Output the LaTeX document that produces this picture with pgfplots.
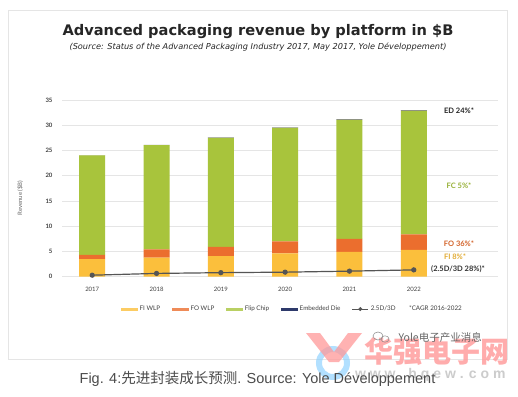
\documentclass[border=0pt]{standalone}
\usepackage{fontspec}
\setmainfont{Lato}
\newfontfamily\titlefont{DejaVu Sans}
\newfontfamily\capfont{Liberation Sans}
\newfontfamily\cjk{Noto Sans CJK SC}
\usepackage{pgfplots}
\pgfplotsset{compat=1.18}
\definecolor{fiw}{HTML}{FBBF3C}
\definecolor{fow}{HTML}{EB6E2E}
\definecolor{fcc}{HTML}{A8C43C}
\definecolor{edc}{HTML}{2E3A6B}
\definecolor{linec}{HTML}{555555}
\begin{document}
\begin{tikzpicture}[x=1pt,y=1pt]
\useasboundingbox (0,0) rectangle (518,396);
\fill[white] (0,0) rectangle (518,396);
\draw[black!10, line width=0.6pt] (8,37) rectangle (507,386);
\node[font=\titlefont\bfseries\fontsize{14.6}{16}\selectfont, text=black!85] at (258,364) {Advanced packaging revenue by platform in \$B};
\node[font=\titlefont\itshape\fontsize{8.2}{9}\selectfont, text=black!85] at (258,349) {(Source: Status of the Advanced Packaging Industry 2017, May 2017, Yole Développement)};
\begin{axis}[
  at={(62pt,119.3pt)}, anchor=south west,
  scale only axis, width=436pt, height=176.7pt,
  xmin=-0.47, xmax=6.31, ymin=0, ymax=35,
  ytick={0,5,...,35}, xtick={0,...,5},
  xticklabels={2017,2018,2019,2020,2021,2022},
  ybar stacked, bar width=26pt,
  ymajorgrids, grid style={black!10, line width=0.8pt},
  axis line style={draw=none}, major tick length=0pt,
  tick label style={font=\fontsize{6}{7}\selectfont\bfseries, text=black!75},
  /pgf/number format/assume math mode=true,
  yticklabel style={xshift=-6pt},
  xticklabel style={yshift=-7pt, font=\fontsize{6}{7}\selectfont, text=black!75},
  clip=false,
  legend style={at={(0.528,-0.183)}, anchor=center, draw=none, fill=none,
    font=\fontsize{6.3}{7}\selectfont, text=black!75, legend columns=-1,
    /tikz/every even column/.append style={column sep=9.5pt}},
  legend cell align=left,
]
\addplot[fill=fiw, draw=none, legend image code/.code={\fill[fiw!80] (0pt,-1.5pt) rectangle (17pt,1.5pt);}]
  coordinates {(0,3.5) (1,3.8) (2,4.1) (3,4.6) (4,4.9) (5,5.3)};
\addlegendentry{FI WLP}
\addplot[fill=fow, draw=none, legend image code/.code={\fill[fow!80] (0pt,-1.5pt) rectangle (17pt,1.5pt);}]
  coordinates {(0,0.8) (1,1.6) (2,1.8) (3,2.4) (4,2.6) (5,3.1)};
\addlegendentry{FO WLP}
\addplot[fill=fcc, draw=none, legend image code/.code={\fill[fcc!80] (0pt,-1.5pt) rectangle (17pt,1.5pt);}]
  coordinates {(0,19.75) (1,20.64) (2,21.62) (3,22.5) (4,23.58) (5,24.45)};
\addlegendentry{Flip Chip}
\addplot[fill=black!45, draw=none, legend image code/.code={\fill[edc] (0pt,-1.5pt) rectangle (17pt,1.5pt);}]
  coordinates {(0,0.05) (1,0.06) (2,0.08) (3,0.10) (4,0.12) (5,0.15)};
\addlegendentry{Embedded Die}
\addlegendimage{legend image code/.code={\draw[linec, line width=0.9pt] (0pt,0pt) -- (16pt,0pt); \fill[linec] (8pt,0pt) circle (1.8pt);}}
\addlegendentry{2.5D/3D}
\addlegendimage{empty legend}
\addlegendentry{*CAGR 2016-2022}
\end{axis}
\begin{axis}[
  at={(62pt,119.3pt)}, anchor=south west,
  scale only axis, width=436pt, height=176.7pt,
  xmin=-0.47, xmax=6.31, ymin=0, ymax=35,
  hide axis, clip=false,
]
\addplot[linec, line width=1.2pt, mark=*, mark size=2pt, mark options={fill=linec}]
  coordinates {(0,0.3) (1,0.65) (2,0.8) (3,0.9) (4,1.1) (5,1.35)};
\end{axis}
\node[rotate=90, font=\fontsize{6}{7}\selectfont, text=black!60] at (20,198) {Revenue (\$B)};
\begin{scope}[font=\fontsize{7.5}{8}\selectfont\bfseries]
\node[text=black!85] at (459,285) {ED 24\%*};
\node[text=fcc!90!black] at (459,210) {FC 5\%*};
\node[text=fow!90!black] at (459,152) {FO 36\%*};
\node[text=fiw!90!black] at (455,139.3) {FI 8\%*};
\node[text=black!80] at (458,127) {(2.5D/3D 28\%)*};
\end{scope}
% watermarks
\draw[blue!40!cyan!50, opacity=0.6, line width=6pt] (333,33) circle (14pt);
\fill[red!40, opacity=0.75] (306,63) -- (320,63) -- (334,44) -- (348,63) -- (362,63) -- (339,34) -- (329,34) -- cycle;
\node[font=\cjk\bfseries\fontsize{29}{32}\selectfont, text=red!38, opacity=0.85, anchor=west] at (361,44) {华强电子网};
\node[font=\capfont\bfseries\fontsize{14}{16}\selectfont, text=black!20, anchor=east] at (509,21) {w w w . h q e w . c o m};
\node[font=\cjk\fontsize{10.5}{12}\selectfont, text=black!60, anchor=west] at (395,59) {Yole电子产业消息};
\draw[black!45, line width=0.5pt] (378,60) ellipse (5pt and 4pt);
\draw[black!45, line width=0.5pt] (385,57) ellipse (4pt and 3.2pt);
\node[font=\capfont\fontsize{14.5}{16}\selectfont, text=black!70] at (257.5,17) {Fig. 4:{\cjk 先进封装成长预测}. Source: Yole Développement};
\end{tikzpicture}
\end{document}
